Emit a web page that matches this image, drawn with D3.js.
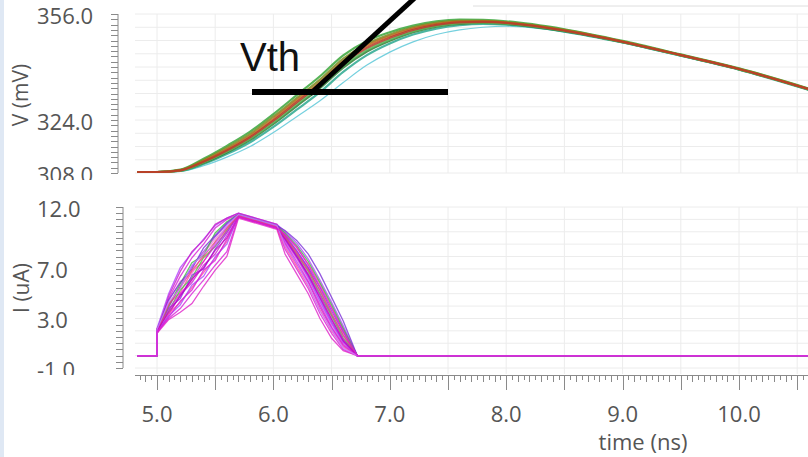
<!DOCTYPE html>
<meta charset="utf-8">
<html>
<head>
  <title>Transient V / I</title>
  <script src="https://d3js.org/d3.v7.min.js"></script>
  <style>
    body { margin: 0; background: #fff; }
    text { font-family: "Open Sans", "Noto Sans", sans-serif; }
  </style>
</head>
<body>
<div id="my_dataviz"></div>
<script>
  // ---- data (read off the waveform viewer) ----
  // voltage traces, time in ns, value in mV
  var tV = [4.83, 5.0, 5.2, 5.4, 5.6, 5.8, 6.0, 6.2, 6.4, 6.6, 6.8, 7.0, 7.2, 7.4, 7.6, 7.8, 8.0, 8.5, 9.0, 9.5, 10.0, 10.6];
  var vGreen  = [308.3,308.3,309.0,312.3,316.2,320.5,325.8,331.5,337.2,343.5,347.8,350.5,352.5,353.8,354.3,354.2,353.8,351.4,347.9,343.8,339.6,333.5];
  var vOlive  = [308.3,308.3,308.9,311.9,315.6,319.8,325.0,330.6,336.2,342.5,346.9,349.8,352.0,353.3,353.9,353.9,353.5,351.2,347.7,343.7,339.5,333.4];
  var vOrange = [308.3,308.3,308.8,311.6,315.1,319.2,324.3,329.9,335.4,341.8,346.3,349.3,351.6,353.0,353.7,353.8,353.4,351.1,347.7,343.6,339.4,333.3];
  var vRed    = [308.3,308.3,308.8,311.4,314.8,318.8,323.8,329.3,334.8,341.1,345.7,348.8,351.2,352.7,353.5,353.6,353.3,351.0,347.6,343.6,339.4,333.3];
  var vGreen2 = [308.3,308.3,308.7,311.2,314.5,318.4,323.3,328.8,334.2,340.4,345.1,348.3,350.8,352.4,353.2,353.4,353.1,350.9,347.5,343.5,339.3,333.2];
  var vDark   = [308.3,308.3,308.7,311.0,314.2,318.0,322.8,328.2,333.6,339.8,344.6,347.9,350.5,352.2,353.0,353.3,353.0,350.8,347.5,343.5,339.3,333.2];
  var vTeal   = [308.3,308.3,308.6,310.7,313.7,317.3,321.9,327.1,332.4,338.5,343.5,347.1,349.8,351.6,352.6,353.0,352.8,350.7,347.4,343.4,339.2,333.1];
  var vCyan   = [308.3,308.3,308.5,310.2,312.8,316.0,320.2,325.0,329.8,335.3,340.5,344.5,347.6,349.8,351.2,352.0,352.3,350.6,347.3,343.3,339.2,333.1];

  // current traces, time in ns, value in uA
  // each row: jump, rise @5.1..5.6, peak @5.7, plateau @6.03, fall @6.1..6.6
  var tI = [4.83, 5.0, 5.0, 5.1, 5.2, 5.3, 5.4, 5.5, 5.6, 5.7, 6.03, 6.1, 6.2, 6.3, 6.4, 6.5, 6.6, 6.72, 10.6];
  var iRows = [
    [2.0, 4.6,6.4,7.9,9.0,10.3,11.0, 11.4,10.5, 9.6,8.4,7.0,5.2,3.3,1.6],
    [1.9, 3.9,5.6,7.2,8.4,9.6,10.6, 11.3,10.4, 9.4,8.0,6.4,4.6,2.7,1.1],
    [2.1, 4.2,5.1,6.8,7.6,9.1,10.2, 11.4,10.5, 9.8,8.7,7.4,5.8,3.9,2.1],
    [1.8, 3.3,4.9,5.9,7.3,8.2,9.7, 11.2,10.4, 9.0,7.4,5.9,3.9,2.2,0.8],
    [2.0, 3.6,5.3,6.3,7.9,8.8,10.1, 11.3,10.4, 9.5,8.2,6.8,5.0,3.2,1.4],
    [2.2, 5.0,7.1,8.3,9.4,10.5,11.1, 11.5,10.6, 10.0,9.1,7.8,6.1,4.3,2.4],
    [1.9, 3.0,3.8,5.0,6.1,7.3,8.4, 11.2,10.3, 8.6,7.0,5.4,3.4,1.8,0.5],
    [2.0, 4.4,6.0,6.6,8.3,9.4,10.4, 11.3,10.5, 9.2,7.8,6.2,4.3,2.5,1.0],
    [2.1, 3.8,4.6,6.5,7.0,8.6,9.9, 11.4,10.4, 9.7,8.5,7.1,5.5,3.6,1.9],
    [1.8, 2.9,3.5,4.2,5.6,6.9,8.0, 11.1,10.2, 8.2,6.6,5.0,3.0,1.4,0.4],
    [2.0, 4.0,5.8,7.5,8.1,9.9,10.8, 11.4,10.5, 9.9,8.9,7.6,5.9,4.1,2.2],
    [2.2, 3.4,4.3,5.5,6.7,7.9,9.2, 11.2,10.3, 8.8,7.2,5.6,3.7,2.0,0.7],
    [1.9, 4.8,6.8,8.4,9.3,10.6,11.1, 11.5,10.6, 9.5,8.1,6.6,4.9,3.0,1.3],
    [2.0, 3.2,4.1,5.7,6.4,8.0,9.0, 11.3,10.4, 9.3,7.9,6.3,4.4,2.6,1.1],
    [2.1, 4.5,5.9,7.0,8.7,9.7,10.7, 11.4,10.5, 10.1,9.3,8.2,6.6,4.7,2.8],
    [2.0, 3.7,5.0,6.1,7.6,8.9,10.0, 11.3,10.4, 9.1,7.6,6.0,4.1,2.3,0.9],
    [1.9, 4.1,5.5,6.9,8.0,9.2,10.3, 11.3,10.4, 9.6,8.3,6.9,5.3,3.4,1.7],
    [2.0, 3.5,4.8,6.2,7.1,8.5,9.5, 11.2,10.3, 9.4,8.0,6.5,4.7,2.9,1.2],
    [2.1, 4.3,5.4,7.3,8.2,9.0,10.5, 11.4,10.5, 8.9,7.5,5.7,3.6,2.1,0.6],
    [1.9, 3.1,4.4,5.3,6.9,7.7,9.4, 11.2,10.3, 9.8,8.8,7.3,5.6,3.8,2.0]
  ];
  var iColors = ["#d81ed8","#9b30e8","#ff3fa0","#cc22cc","#4cc83c","#b042ff","#d81ed8","#f27fd6","#8a2be2","#e020c8",
                 "#3fbf3f","#ff4d9e","#c81ec8","#a64dff","#7b2fd8","#d81ed8","#e8407a","#c000c0","#c77dff","#d81ed8"];

  // ticks
  var vTickLabels = [308, 324, 356];
  var iTickLabels = [-1, 3, 7, 12];
  var xTickLabels = [5, 6, 7, 8, 9, 10];

  // ---- layout ----
  var W = 808, H = 457;
  var svg = d3.select("#my_dataviz").append("svg")
    .attr("width", W).attr("height", H);

  var x = d3.scaleLinear().domain([5, 10]).range([157, 739]);
  var yV = d3.scaleLinear().domain([308, 356]).range([173, 14]);
  var yI = d3.scaleLinear().domain([-1, 12]).range([368, 207]);
  var plotLeft = 135;

  // pale blue frame edge on the left
  svg.append("rect").attr("x", 0).attr("y", 0).attr("width", 4).attr("height", H).attr("fill", "#dfe8f4");
  // thin line on top right
  svg.append("line").attr("x1", 473).attr("x2", W).attr("y1", 6).attr("y2", 6)
    .attr("stroke", "#dedede").attr("stroke-width", 1);

  var gridColor = "#ececec";
  var vGrid = d3.range(4.5, 11.01, 0.5).filter(function(t) { return x(t) > plotLeft; });

  // top panel grid
  svg.append("g").selectAll("line").data(d3.range(308, 356.1, 4)).enter().append("line")
    .attr("x1", plotLeft).attr("x2", W).attr("y1", function(d) { return yV(d); }).attr("y2", function(d) { return yV(d); })
    .attr("stroke", gridColor);
  svg.append("g").selectAll("line").data(vGrid).enter().append("line")
    .attr("x1", function(d) { return x(d); }).attr("x2", function(d) { return x(d); })
    .attr("y1", yV(356)).attr("y2", yV(308))
    .attr("stroke", gridColor);

  // bottom panel grid
  svg.append("g").selectAll("line").data(d3.range(-1, 12.1, 1)).enter().append("line")
    .attr("x1", plotLeft).attr("x2", W).attr("y1", function(d) { return yI(d); }).attr("y2", function(d) { return yI(d); })
    .attr("stroke", gridColor);
  svg.append("g").selectAll("line").data(vGrid).enter().append("line")
    .attr("x1", function(d) { return x(d); }).attr("x2", function(d) { return x(d); })
    .attr("y1", yI(12)).attr("y2", yI(-1) + 6)
    .attr("stroke", gridColor);

  // ---- y axes ----
  var axisColor = "#8a8a8a";
  function yAxis(scale, xPos, minorStep, labels, clipId, clipBottom) {
    var g = svg.append("g");
    var dom = scale.domain();
    g.append("line").attr("x1", xPos).attr("x2", xPos)
      .attr("y1", scale(dom[1])).attr("y2", scale(dom[0])).attr("stroke", axisColor);
    g.selectAll(".mt").data(d3.range(dom[0], dom[1] + minorStep / 2, minorStep)).enter().append("line")
      .attr("x1", xPos - 7).attr("x2", xPos)
      .attr("y1", function(d) { return Math.round(scale(d)) + 0.5; })
      .attr("y2", function(d) { return Math.round(scale(d)) + 0.5; })
      .attr("stroke", axisColor);
    // labels at the panel bottom get cut like in the viewer
    svg.append("clipPath").attr("id", clipId).append("rect")
      .attr("x", 0).attr("y", 0).attr("width", 130).attr("height", clipBottom);
    g.append("g").attr("clip-path", "url(#" + clipId + ")")
      .selectAll("text").data(labels).enter().append("text")
      .attr("x", 37).attr("y", function(d) { return scale(d) + 9.5; })
      .attr("font-size", 22).attr("fill", "#555")
      .text(function(d) { return d.toFixed(1); });
  }
  yAxis(yV, 118, 1.6, vTickLabels, "clipV", 180);
  yAxis(yI, 123, 0.5, iTickLabels, "clipI", 375);

  // axis titles
  svg.append("text").attr("transform", "translate(28,95) rotate(-90)")
    .attr("text-anchor", "middle").attr("font-size", 21).attr("fill", "#555").text("V (mV)");
  svg.append("text").attr("transform", "translate(29,288) rotate(-90)")
    .attr("text-anchor", "middle").attr("font-size", 21).attr("fill", "#555").text("I (uA)");

  // ---- x axis ----
  var xAxisY = 375;
  var gx = svg.append("g");
  gx.append("line").attr("x1", plotLeft).attr("x2", W).attr("y1", xAxisY + 0.5).attr("y2", xAxisY + 0.5).attr("stroke", axisColor);
  gx.selectAll(".xt").data(d3.range(96, 222)).enter().append("line")
    .attr("x1", function(d) { return Math.round(x(d * 0.05)) + 0.5; })
    .attr("x2", function(d) { return Math.round(x(d * 0.05)) + 0.5; })
    .attr("y1", xAxisY)
    .attr("y2", function(d) { return d % 10 == 0 ? xAxisY + 15 : (d % 2 == 0 ? xAxisY + 7 : xAxisY + 5); })
    .attr("stroke", axisColor)
    .style("display", function(d) { return x(d * 0.05) < plotLeft ? "none" : null; });
  gx.selectAll("text").data(xTickLabels).enter().append("text")
    .attr("x", function(d) { return x(d); }).attr("y", 422)
    .attr("text-anchor", "middle").attr("font-size", 22).attr("fill", "#555")
    .text(function(d) { return d.toFixed(1); });
  svg.append("text").attr("x", 643).attr("y", 450).attr("text-anchor", "middle")
    .attr("font-size", 22).attr("fill", "#555").text("time (ns)");

  // ---- voltage traces ----
  var vSeries = [
    { v: vCyan, c: "#5cc8d8" }, { v: vTeal, c: "#2ba88f" }, { v: vGreen, c: "#3aa63a" },
    { v: vDark, c: "#2e7d32" }, { v: vGreen2, c: "#5cb85c" }, { v: vOlive, c: "#7a8a1e" },
    { v: vOrange, c: "#c0661e" }, { v: vRed, c: "#b83a2a" }
  ];
  var lineV = d3.line().curve(d3.curveMonotoneX)
    .x(function(d) { return x(d[0]); }).y(function(d) { return yV(d[1]); });
  svg.append("g").selectAll("path").data(vSeries).enter().append("path")
    .attr("d", function(s) { return lineV(tV.map(function(t, i) { return [t, s.v[i]]; })); })
    .attr("fill", "none")
    .attr("stroke", function(s) { return s.c; })
    .attr("stroke-width", function(s) { return s.c == "#5cc8d8" ? 1.2 : 2.2; })
    .attr("stroke-opacity", 0.85);

  // ---- current traces ----
  var lineI = d3.line()
    .x(function(d) { return x(d[0]); }).y(function(d) { return yI(d[1]); });
  function iPoints(row) {
    var vals = [0, 0].concat(row).concat([0, 0]);
    return tI.map(function(t, k) { return [t, vals[k]]; });
  }
  svg.append("g").selectAll("path").data(iRows).enter().append("path")
    .attr("d", function(r) { return lineI(iPoints(r)); })
    .attr("fill", "none")
    .attr("stroke", function(r, i) { return iColors[i]; })
    .attr("stroke-width", 1.3)
    .attr("stroke-opacity", 0.8);

  // ---- Vth annotation ----
  svg.append("text").attr("x", 240).attr("y", 71)
    .style("font-family", "'Liberation Sans', Arial, sans-serif")
    .attr("font-size", 40).attr("fill", "#111").text("Vth");
  svg.append("line").attr("x1", 252).attr("x2", 448).attr("y1", 92).attr("y2", 92)
    .attr("stroke", "#000").attr("stroke-width", 6);
  svg.append("line").attr("x1", 310).attr("y1", 94).attr("x2", 418).attr("y2", -5)
    .attr("stroke", "#000").attr("stroke-width", 5);
</script>
</body>
</html>
